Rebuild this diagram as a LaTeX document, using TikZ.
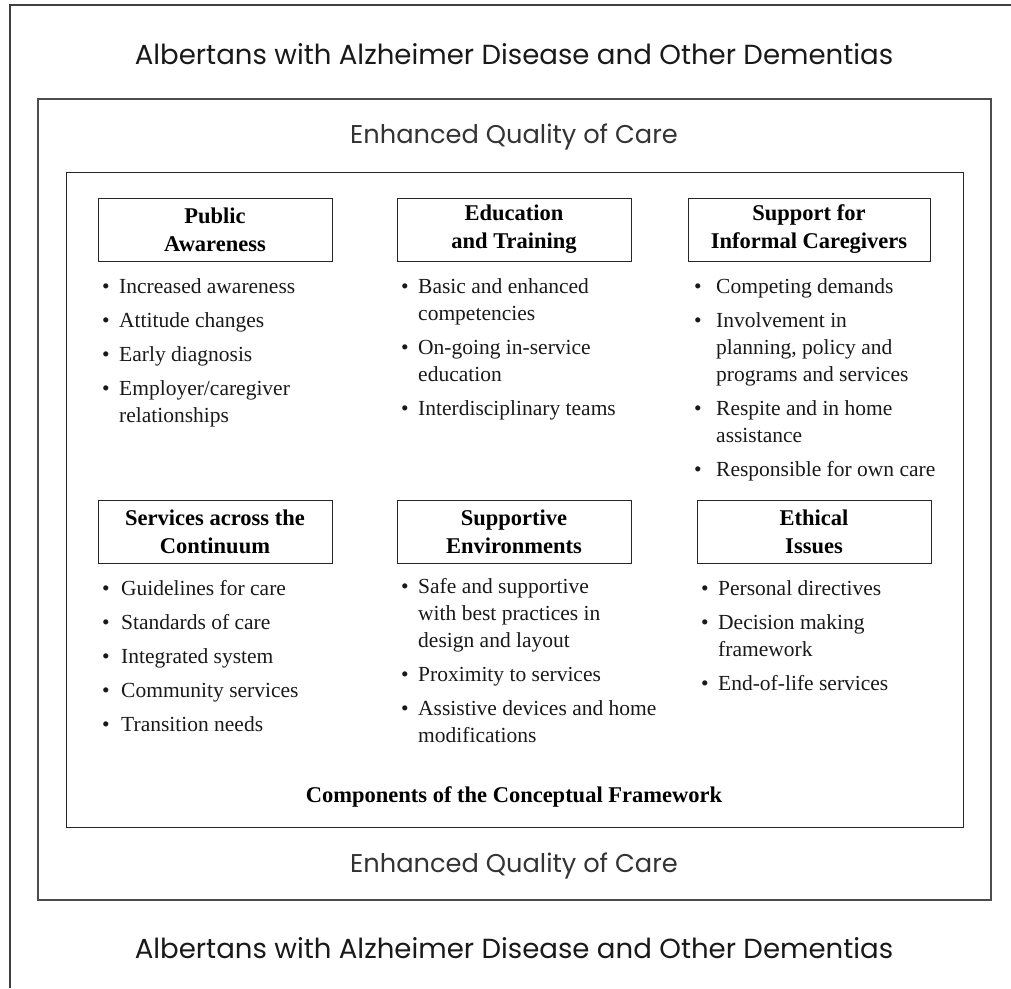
\documentclass[tikz,border=0pt]{standalone}
\usepackage{fontspec}
\setmainfont{Liberation Serif}
\newfontfamily\titlefont{Poppins}
\usetikzlibrary{positioning}

% bullet list: first column holds the bullet
\newcommand{\bullist}[2][17pt]{\begin{tabular}[t]{@{}p{#1}@{}l@{}}#2\end{tabular}}

\tikzset{
  frameline/.style={line width=2pt, black!75},
  midline/.style={line width=1.3pt, black!70},
  innerline/.style={line width=1pt, black!85},
  headbox/.style={draw, line width=0.9pt, black!85, text=black, minimum height=63pt,
    align=center, inner sep=0pt, font=\bfseries\fontsize{22.5}{28}\selectfont},
  itemlist/.style={anchor=base west, inner sep=0pt, text=black!90,
    font=\fontsize{21.5}{27}\selectfont},
  bigtitle/.style={anchor=base, inner sep=0pt, text=black!90,
    font=\titlefont\fontsize{27.6}{32}\selectfont},
  caretitle/.style={anchor=base, inner sep=0pt, text=black!80,
    font=\titlefont\fontsize{25.7}{30}\selectfont}
}

\begin{document}
\begin{tikzpicture}[x=1pt, y=-1pt]
    \useasboundingbox (0,0) rectangle (1011,988);

    % Frames
    \draw[frameline] (1011,5) -- (10,5) -- (10,988);
    \draw[midline] (38,99) rectangle (991,900);
    \draw[innerline] (66,172) rectangle (963,827);

    % Titles
    \node[bigtitle] (toptitle) at (514,64) {Albertans with Alzheimer Disease and Other Dementias};
    \node[caretitle] (topcare) at (514,143) {Enhanced Quality of Care};
    \node[caretitle] (botcare) at (514,872) {Enhanced Quality of Care};
    \node[bigtitle] (bottitle) at (514,958) {Albertans with Alzheimer Disease and Other Dementias};

    % Component headings
    \node[headbox, minimum width=234pt] (public) at (215,229.5) {Public\\Awareness};
    \node[headbox, minimum width=234pt] (educ) at (514,229.5) {Education\\and Training};
    \node[headbox, minimum width=242pt] (support) at (809,229.5) {Support for\\Informal Caregivers};
    \node[headbox, minimum width=234pt] (services) at (215,532) {Services across the\\Continuum};
    \node[headbox, minimum width=234pt] (environ) at (514,532) {Supportive\\Environments};
    \node[headbox, minimum width=234pt] (ethics) at (814,532) {Ethical\\Issues};

    % Component items
    \node[itemlist] (publiclist) at (102,293) {\bullist{%
      \textbullet & Increased awareness\\[7pt]
      \textbullet & Attitude changes\\[7pt]
      \textbullet & Early diagnosis\\[7pt]
      \textbullet & Employer/caregiver\\
                  & relationships}};
    \node[itemlist] (educlist) at (401,293) {\bullist{%
      \textbullet & Basic and enhanced\\
                  & competencies\\[7pt]
      \textbullet & On-going in-service\\
                  & education\\[7pt]
      \textbullet & Interdisciplinary teams}};
    \node[itemlist] (supportlist) at (694,293) {\bullist[22pt]{%
      \textbullet & Competing demands\\[7pt]
      \textbullet & Involvement in\\
                  & planning, policy and\\
                  & programs and services\\[7pt]
      \textbullet & Respite and in home\\
                  & assistance\\[7pt]
      \textbullet & Responsible for own care}};
    \node[itemlist] (serviceslist) at (102,595) {\bullist[19pt]{%
      \textbullet & Guidelines for care\\[7pt]
      \textbullet & Standards of care\\[7pt]
      \textbullet & Integrated system\\[7pt]
      \textbullet & Community services\\[7pt]
      \textbullet & Transition needs}};
    \node[itemlist] (environlist) at (401,593) {\bullist{%
      \textbullet & Safe and supportive\\
                  & with best practices in\\
                  & design and layout\\[7pt]
      \textbullet & Proximity to services\\[7pt]
      \textbullet & Assistive devices and home\\
                  & modifications}};
    \node[itemlist] (ethicslist) at (701,595) {\bullist{%
      \textbullet & Personal directives\\[7pt]
      \textbullet & Decision making\\
                  & framework\\[7pt]
      \textbullet & End-of-life services}};

    % Caption
    \node[anchor=base, inner sep=0pt, font=\bfseries\fontsize{22.5}{28}\selectfont]
      (caption) at (514,802) {Components of the Conceptual Framework};
\end{tikzpicture}
\end{document}
